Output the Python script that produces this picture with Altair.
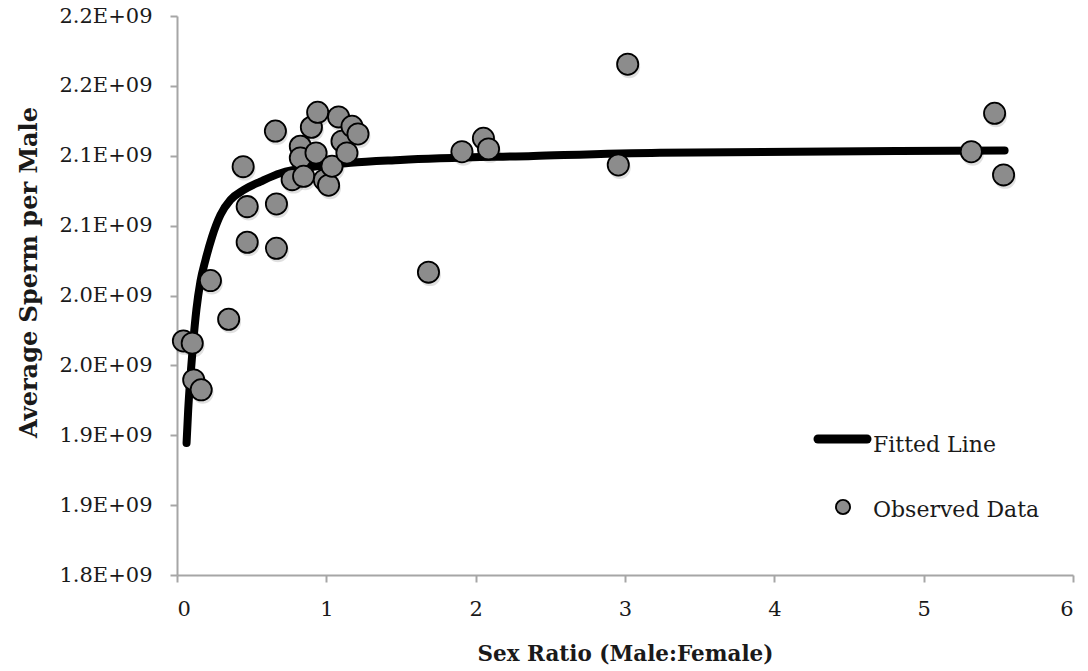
import json
import altair as alt
import pandas as pd

obs_x = [0.043, 0.102, 0.112, 0.162, 0.224, 0.346, 0.443, 0.470, 0.470, 0.659,
         0.666, 0.666, 0.771, 0.826, 0.826, 0.848, 0.900, 0.931, 0.942, 0.987,
         1.015, 1.038, 1.082, 1.105, 1.138, 1.172, 1.212, 1.684, 1.908, 2.052,
         2.086, 2.955, 3.018, 5.319, 5.475, 5.535]
obs_y = [1.9675e9, 1.9659e9, 1.9396e9, 1.9325e9, 2.0107e9, 1.9830e9, 2.0922e9, 2.0636e9, 2.0381e9, 2.1177e9,
         2.0655e9, 2.0338e9, 2.0829e9, 2.1068e9, 2.0984e9, 2.0853e9, 2.1204e9, 2.1020e9, 2.1311e9, 2.0827e9,
         2.0789e9, 2.0925e9, 2.1278e9, 2.1104e9, 2.1020e9, 2.1211e9, 2.1156e9, 2.0167e9, 2.1029e9, 2.1125e9,
         2.1049e9, 2.0934e9, 2.1655e9, 2.1029e9, 2.1304e9, 2.0863e9]

# ---- fitted line ----
fit_x = [0.064, 0.075, 0.090, 0.108, 0.130, 0.157, 0.191, 0.235, 0.291, 0.358,
         0.447, 0.559, 0.692, 1.161, 1.495, 2.387, 3.234, 4.839, 5.542]
fit_y = [1.8944e9, 1.9182e9, 1.9420e9, 1.9659e9, 1.9900e9, 2.0100e9, 2.0255e9, 2.0421e9, 2.0577e9, 2.0684e9,
         2.0755e9, 2.0815e9, 2.0875e9, 2.0949e9, 2.0970e9, 2.0999e9, 2.1022e9, 2.1034e9, 2.1037e9]

# ---- axes ----
x_ticks = [0, 1, 2, 3, 4, 5, 6]
y_tick_values = [1800000000, 1850000000, 1900000000, 1950000000, 2000000000,
                 2050000000, 2100000000, 2150000000, 2200000000]
y_tick_labels = ["1.8E+09", "1.9E+09", "1.9E+09", "2.0E+09", "2.0E+09",
                 "2.1E+09", "2.1E+09", "2.2E+09", "2.2E+09"]
legend_labels = ["Fitted Line", "Observed Data"]

FONT = "DejaVu Serif"
TXT = "#1a1a1a"
GRAY = "#a6a6a6"

obs = pd.DataFrame({"x": obs_x, "y": obs_y})
fit = pd.DataFrame({"x": fit_x, "y": fit_y})

y_label_expr = f"{json.dumps(y_tick_labels)}[indexof({json.dumps(y_tick_values)}, datum.value)]"

xs = alt.Scale(domain=[0, 6], nice=False, zero=False)
ys = alt.Scale(domain=[1.8e9, 2.2e9], nice=False, zero=False)

x_axis = alt.Axis(values=x_ticks, format="d", title="Sex Ratio (Male:Female)",
                  grid=False, domainColor=GRAY, domainWidth=2, tickColor=GRAY, tickWidth=2,
                  tickSize=7, labelPadding=16, labelFont=FONT, labelFontSize=21, labelColor=TXT,
                  titleFont=FONT, titleFontSize=21.5, titleFontWeight="bold", titleColor=TXT,
                  titleY=85, titleBaseline="alphabetic")
y_axis = alt.Axis(values=y_tick_values, labelExpr=y_label_expr, title="Average Sperm per Male",
                  grid=False, domainColor=GRAY, domainWidth=2, tickColor=GRAY, tickWidth=2,
                  tickSize=7, labelPadding=18, labelFont=FONT, labelFontSize=21, labelColor=TXT,
                  titleFont=FONT, titleFontSize=24, titleFontWeight="bold", titleColor=TXT,
                  titleX=-136, titleY=256)

line = alt.Chart(fit).mark_line(color="black", strokeWidth=8, strokeCap="round",
                                strokeJoin="round", interpolate="monotone").encode(
    x=alt.X("x:Q", scale=xs, axis=x_axis),
    y=alt.Y("y:Q", scale=ys, axis=y_axis),
)

shadow = alt.Chart(obs).mark_circle(color="#000000", opacity=0.12, size=480,
                                     xOffset=1.5, yOffset=3).encode(
    x=alt.X("x:Q", scale=xs), y=alt.Y("y:Q", scale=ys))

pts = alt.Chart(obs).mark_point(filled=True, fill="#8c8c8c", stroke="black",
                                strokeWidth=1.8, size=450, opacity=1, shape="circle").encode(
    x=alt.X("x:Q", scale=xs), y=alt.Y("y:Q", scale=ys))

leg_df = pd.DataFrame({"label": legend_labels})

leg_line = alt.Chart(leg_df.iloc[[0]]).mark_rule(color="black", strokeWidth=9, strokeCap="round").encode(
    x=alt.value(641), x2=alt.value(690), y=alt.value(423))
leg_pt = alt.Chart(leg_df.iloc[[1]]).mark_point(filled=True, fill="#8c8c8c", stroke="black",
                                                 strokeWidth=1.8, size=200, opacity=1, shape="circle").encode(
    x=alt.value(666), y=alt.value(491))
leg_txt1 = alt.Chart(leg_df.iloc[[0]]).mark_text(font=FONT, fontSize=22, color=TXT, align="left",
                                                 baseline="alphabetic").encode(
    x=alt.value(696), y=alt.value(436), text="label:N")
leg_txt2 = alt.Chart(leg_df.iloc[[1]]).mark_text(font=FONT, fontSize=22, color=TXT, align="left",
                                                 baseline="alphabetic").encode(
    x=alt.value(696), y=alt.value(501), text="label:N")

chart = alt.layer(line, shadow, pts, leg_line, leg_pt, leg_txt1, leg_txt2).properties(
    width=896, height=559, autosize="none",
    padding={"left": 177, "top": 16, "right": 15, "bottom": 96},
    background="white",
).configure_view(stroke=None)

chart.save("out.html", embed_options={"renderer": "svg", "actions": False})
